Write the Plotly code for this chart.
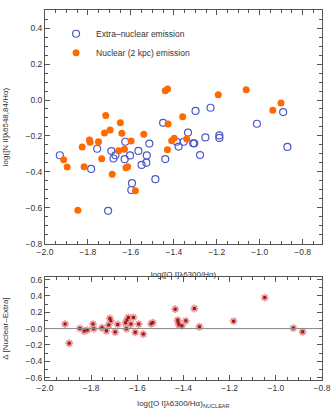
import plotly.graph_objects as go
from plotly.subplots import make_subplots

# top panel: extra-nuclear (open) and nuclear 2kpc (filled) emission
extra_oi = [-1.299, -1.229, -0.891, -1.013, -1.450, -1.334, -1.253, -1.188, -1.188,
            -1.931, -1.757, -1.785, -1.691, -1.681, -1.672, -1.626, -1.629, -1.604,
            -1.565, -1.550, -1.528, -1.526, -1.514, -1.595, -1.598, -1.486, -1.706,
            -1.440, -1.387, -1.378, -1.354, -1.310, -1.305, -1.278, -0.871]
extra_nii = [-0.061, -0.043, -0.067, -0.132, -0.127, -0.181, -0.208, -0.197, -0.211,
             -0.307, -0.271, -0.383, -0.284, -0.325, -0.307, -0.232, -0.329, -0.308,
             -0.283, -0.361, -0.348, -0.308, -0.242, -0.462, -0.500, -0.440, -0.616,
             -0.328, -0.232, -0.259, -0.232, -0.241, -0.241, -0.306, -0.261]

nuc_oi = [-1.440, -1.429, -1.193, -1.063, -0.901, -0.939, -1.359, -1.427, -1.649,
          -1.717, -1.697, -1.723, -1.642, -1.540, -1.793, -1.790, -1.751, -1.827,
          -1.657, -1.630, -1.913, -1.897, -1.736, -1.818, -1.687, -1.615, -1.847,
          -1.599, -1.430, -1.410, -1.398, -1.340, -1.579, -1.623]
nuc_nii = [0.052, 0.061, 0.029, 0.057, -0.017, -0.057, -0.093, -0.133, -0.126,
           -0.086, -0.167, -0.183, -0.185, -0.191, -0.222, -0.235, -0.232, -0.261,
           -0.282, -0.274, -0.332, -0.372, -0.326, -0.371, -0.413, -0.371, -0.613,
           -0.228, -0.276, -0.226, -0.213, -0.217, -0.504, -0.377]

# bottom panel: difference nuclear - extra
diff_oi = [-1.913, -1.895, -1.849, -1.830, -1.817, -1.792, -1.789, -1.753, -1.734,
           -1.724, -1.719, -1.715, -1.696, -1.685, -1.651, -1.645, -1.639, -1.647,
           -1.628, -1.617, -1.609, -1.594, -1.574, -1.540, -1.533, -1.436, -1.425,
           -1.423, -1.420, -1.407, -1.390, -1.353, -1.331, -1.183, -1.048, -0.924,
           -0.884]
diff_val = [0.055, -0.180, 0.002, -0.030, -0.018, 0.055, -0.002, 0.010, -0.027,
            0.043, 0.124, 0.095, -0.043, 0.051, 0.071, 0.104, 0.137, -0.002,
            0.055, 0.137, -0.046, 0.055, -0.067, 0.059, 0.073, 0.238, 0.104,
            0.076, 0.046, 0.034, 0.095, 0.246, 0.022, 0.091, 0.380, 0.006,
            -0.039]

top_yticks = [-0.8, -0.6, -0.4, -0.2, 0.0, 0.2, 0.4]
top_yticktext = ['−0.8', '−0.6', '−0.4', '−0.2', '0.0', '0.2', '0.4']
bot_yticks = [-0.6, -0.4, -0.2, 0.0, 0.2, 0.4, 0.6]
bot_yticktext = ['−0.6', '−0.4', '−0.2', '−0.0', '0.2', '0.4', '0.6']
xticks = [-2.0, -1.8, -1.6, -1.4, -1.2, -1.0, -0.8]
xticktext = ['−2.0', '−1.8', '−1.6', '−1.4', '−1.2', '−1.0', '−0.8']

FONT = 'Liberation Sans, Arial, sans-serif'
TXT = '#333333'
AX = '#555555'

fig = make_subplots(rows=2, cols=1)

fig.add_trace(go.Scatter(
    x=extra_oi, y=extra_nii, mode='markers', name='Extra–nuclear emission',
    marker=dict(symbol='circle-open', size=7, color='#4a5ac8', line=dict(width=1.2)),
), row=1, col=1)
fig.add_trace(go.Scatter(
    x=nuc_oi, y=nuc_nii, mode='markers', name='Nuclear (2 kpc) emission',
    marker=dict(symbol='circle', size=7, color='#ff6a00'),
), row=1, col=1)

fig.add_trace(go.Scatter(
    x=diff_oi, y=diff_val, mode='markers', showlegend=False,
    marker=dict(symbol='asterisk-open', size=6.5, color='#e89a9a', line=dict(width=1.8, color='#e89a9a')),
), row=2, col=1)
fig.add_trace(go.Scatter(
    x=diff_oi, y=diff_val, mode='markers', showlegend=False,
    marker=dict(symbol='square', size=3, color='#a01818'),
), row=2, col=1)

axis_common = dict(
    showline=True, linecolor=AX, linewidth=1, mirror='allticks', automargin=False,
    ticks='inside', ticklen=5, tickcolor=AX, showgrid=False, zeroline=False,
    tickfont=dict(size=8.5, color=TXT, family=FONT),
)
minor_common = dict(ticklen=3, ticks='inside', tickcolor=AX)
title_font = dict(size=8, color=TXT, family=FONT)

fig.update_xaxes(**axis_common)
fig.update_yaxes(**axis_common)

fig.update_xaxes(range=[-2.0, -0.71], tickvals=xticks, ticktext=xticktext,
                 minor=dict(dtick=0.05, **minor_common),
                 title=dict(text='log([O I]λ6300/Hα)', font=title_font),
                 domain=[0, 1], row=1, col=1)
fig.update_yaxes(range=[-0.8, 0.5], tickvals=top_yticks, ticktext=top_yticktext,
                 minor=dict(dtick=0.05, **minor_common),
                 title=dict(text='log([N II]λ6548,84/Hα)', font=title_font),
                 domain=[0.3676, 1.0], row=1, col=1)

fig.update_xaxes(range=[-2.0, -0.8], tickvals=xticks, ticktext=xticktext,
                 minor=dict(dtick=0.05, **minor_common),
                 title=dict(text='log([O I]λ6300/Hα)<sub>NUCLEAR</sub>', font=title_font),
                 domain=[0, 1], row=2, col=1)
fig.update_yaxes(range=[-0.63, 0.63], tickvals=bot_yticks, ticktext=bot_yticktext,
                 minor=dict(dtick=0.1, **minor_common),
                 title=dict(text='Δ [Nuclear–Extra]', font=title_font),
                 domain=[0.0, 0.278], row=2, col=1)

fig.add_hline(y=0, line_color='#888888', line_width=1, row=2, col=1)

fig.update_layout(
    width=335, height=409,
    margin=dict(l=45, r=13, t=10, b=29, autoexpand=False),
    paper_bgcolor='white', plot_bgcolor='white',
    font=dict(family=FONT, color=TXT, size=9),
    legend=dict(x=0.04, y=0.975, xanchor='left', yanchor='top',
                bgcolor='rgba(0,0,0,0)', font=dict(size=8.5, color=TXT, family=FONT),
                itemwidth=30, tracegroupgap=0),
    showlegend=True,
)

# drop the default body margin so the figure fills the window exactly
fig.write_html("out.html", config={'displayModeBar': False},
               post_script="document.body.style.margin='0';document.body.style.overflow='hidden';")
